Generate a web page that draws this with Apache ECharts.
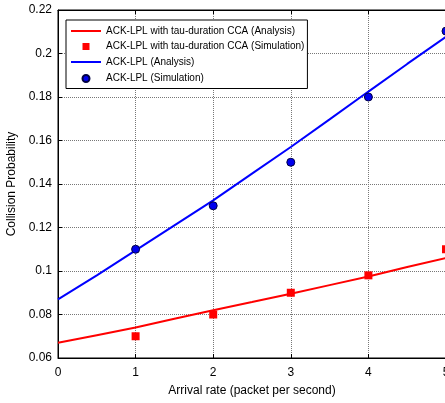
<!DOCTYPE html>
<html><head><meta charset="utf-8">
<script src="https://cdn.jsdelivr.net/npm/echarts@6/dist/echarts.min.js"></script>
<style>html,body{margin:0;padding:0;background:#fff}#c{width:445px;height:403px}</style>
</head><body><div id="c"></div>
<script>
var xTicks = [0, 1, 2, 3, 4, 5];
var xLine = [0, 0.5, 1, 1.5, 2, 2.5, 3, 3.5, 4, 4.5, 5];
var redAnalysis = [0.067, 0.0705, 0.074, 0.078, 0.082, 0.0857, 0.0895, 0.0935, 0.0975, 0.1018, 0.106];
var redSim = [null, 0.070, 0.080, 0.090, 0.098, 0.110];
var blueAnalysis = [0.087, 0.098, 0.1095, 0.121, 0.1325, 0.1448, 0.157, 0.1697, 0.1825, 0.1952, 0.2077];
var blueSim = [null, 0.110, 0.130, 0.150, 0.180, 0.2103];
var names = ['ACK-LPL with tau-duration CCA (Analysis)', 'ACK-LPL with tau-duration CCA (Simulation)', 'ACK-LPL (Analysis)', 'ACK-LPL (Simulation)'];

function pairs(xs, ys){ var r=[]; for(var i=0;i<xs.length;i++){ if(ys[i]!==null) r.push([xs[i], ys[i]]); } return r; }

var font = 'Liberation Sans, Arial, sans-serif';
var chart = echarts.init(document.getElementById('c'));
chart.setOption({
  animation: false,
  backgroundColor: '#fff',
  grid: {left: 58, right: -1, top: 10, bottom: 45, show: true, borderColor: '#000', borderWidth: 1, containLabel: false, outerBoundsMode: 'none'},
  legend: {
    orient: 'vertical', left: 66, top: 20,
    backgroundColor: '#fff', borderColor: '#000', borderWidth: 1,
    padding: [6, 3, 3, 4], itemGap: 4.5, itemWidth: 30, itemHeight: 12,
    textStyle: {fontFamily: font, fontSize: 10, color: '#000'},
    data: [
      {name: names[0], icon: 'path://M0,5 L30,5 L30,7 L0,7 Z'},
      {name: names[1], icon: 'path://M0,0 M30,12 M11.5,2.5 L18.5,2.5 L18.5,9.5 L11.5,9.5 Z'},
      {name: names[2], icon: 'path://M0,5 L30,5 L30,7 L0,7 Z'},
      {name: names[3], icon: 'path://M0,0 M30,12 M18.5,6 A3.5,3.5 0 1,1 11.5,6 A3.5,3.5 0 1,1 18.5,6 Z'}
    ]
  },
  xAxis: [{
    type: 'value', min: 0, max: 5, interval: 1,
    name: 'Arrival rate (packet per second)', nameLocation: 'middle', nameGap: 27,
    nameTextStyle: {fontFamily: font, fontSize: 12, color: '#000'},
    axisLine: {show: true, lineStyle: {color: '#000'}},
    axisTick: {show: true, inside: true, length: 4, lineStyle: {color: '#000'}},
    axisLabel: {fontFamily: font, fontSize: 12, color: '#000', margin: 9},
    splitLine: {show: true, lineStyle: {color: '#777', type: 'dotted'}}
  }, {
    type: 'value', min: 0, max: 5, interval: 1, position: 'top',
    axisLine: {show: true, lineStyle: {color: '#000'}},
    axisTick: {show: true, inside: true, length: 4, lineStyle: {color: '#000'}},
    axisLabel: {show: false}, splitLine: {show: false}
  }],
  yAxis: {
    type: 'value', min: 0.06, max: 0.22, interval: 0.02,
    name: 'Collision Probability', nameLocation: 'middle', nameGap: 39,
    nameTextStyle: {fontFamily: font, fontSize: 12, color: '#000'},
    axisLine: {show: true, lineStyle: {color: '#000'}},
    axisTick: {show: true, inside: true, length: 4, lineStyle: {color: '#000'}},
    axisLabel: {fontFamily: font, fontSize: 12, color: '#000', margin: 6},
    splitLine: {show: true, lineStyle: {color: '#777', type: 'dotted'}}
  },
  series: [
    {name: names[0], type: 'line', symbol: 'none', data: pairs(xLine, redAnalysis), lineStyle: {color: '#ff0000', width: 2}, itemStyle: {color: '#ff0000'}, z: 3},
    {name: names[1], type: 'scatter', symbol: 'rect', symbolSize: 8, data: pairs(xTicks, redSim), itemStyle: {color: '#ff0000', opacity: 1}, z: 4},
    {name: names[2], type: 'line', symbol: 'none', data: pairs(xLine, blueAnalysis), lineStyle: {color: '#0000ff', width: 2}, itemStyle: {color: '#0000ff'}, z: 3},
    {name: names[3], type: 'scatter', symbol: 'circle', symbolSize: 8, data: pairs(xTicks, blueSim), itemStyle: {color: '#0000ee', borderColor: '#000044', borderWidth: 1, opacity: 1}, z: 4}
  ]
});
</script></body></html>
